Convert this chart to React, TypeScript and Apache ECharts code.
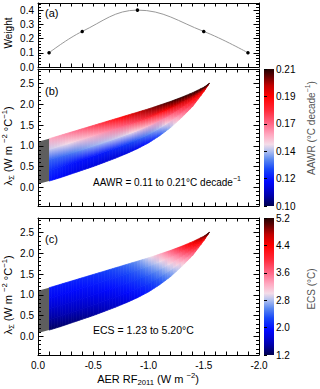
import React, { useEffect, useRef } from "react";
import * as echarts from "echarts";

// ---- data ----
// Panel (a): weights of the aerosol RF samples
const WEIGHT_RF = [-0.1, -0.4, -0.9, -1.5, -1.9];
const WEIGHTS = [0.1, 0.25, 0.4, 0.25, 0.1];

// Panels (b),(c): accepted region in (AER RF, lambda) space, sampled by column
const AER_RF = [-0.1, -0.2, -0.3, -0.4, -0.5, -0.6, -0.7, -0.8, -0.9, -1.0, -1.1, -1.2, -1.3, -1.4, -1.5, -1.55];
const LAMBDA_LOWER = [0.15, 0.23, 0.32, 0.41, 0.5, 0.6, 0.7, 0.81, 0.93, 1.07, 1.24, 1.44, 1.68, 1.95, 2.3, 2.5];
const LAMBDA_UPPER = [1.17, 1.25, 1.33, 1.41, 1.49, 1.57, 1.65, 1.73, 1.81, 1.89, 1.98, 2.07, 2.17, 2.28, 2.41, 2.5];
// relative positions across the band (0 = lower edge, 1 = upper edge) at which values were read
const BAND_LEVELS = [0, 0.25, 0.5, 0.75, 1];

// AAWR (°C decade-1) per column, at BAND_LEVELS
const AAWR = [
  [0.121, 0.126, 0.133, 0.146, 0.157],
  [0.119, 0.124, 0.134, 0.148, 0.16],
  [0.117, 0.122, 0.136, 0.15, 0.164],
  [0.116, 0.121, 0.139, 0.153, 0.168],
  [0.115, 0.122, 0.142, 0.156, 0.173],
  [0.114, 0.123, 0.144, 0.16, 0.178],
  [0.114, 0.125, 0.146, 0.164, 0.184],
  [0.115, 0.128, 0.148, 0.168, 0.19],
  [0.117, 0.132, 0.151, 0.173, 0.196],
  [0.121, 0.137, 0.155, 0.178, 0.201],
  [0.129, 0.144, 0.161, 0.184, 0.205],
  [0.143, 0.154, 0.168, 0.19, 0.208],
  [0.157, 0.166, 0.176, 0.195, 0.21],
  [0.17, 0.177, 0.185, 0.199, 0.21],
  [0.185, 0.19, 0.195, 0.203, 0.21],
  [0.2, 0.202, 0.205, 0.208, 0.21],
];

// ECS (°C) per column, at BAND_LEVELS
const ECS = [
  [1.25, 1.45, 1.66, 1.85, 2.0],
  [1.29, 1.5, 1.7, 1.88, 2.03],
  [1.33, 1.54, 1.74, 1.91, 2.06],
  [1.38, 1.59, 1.78, 1.95, 2.1],
  [1.44, 1.65, 1.83, 2.0, 2.16],
  [1.52, 1.72, 1.89, 2.06, 2.23],
  [1.61, 1.8, 1.97, 2.14, 2.32],
  [1.72, 1.9, 2.07, 2.25, 2.45],
  [1.86, 2.03, 2.21, 2.4, 2.62],
  [2.03, 2.2, 2.4, 2.64, 2.92],
  [2.25, 2.44, 2.66, 2.93, 3.25],
  [2.55, 2.78, 3.02, 3.32, 3.65],
  [2.95, 3.2, 3.48, 3.78, 4.1],
  [3.5, 3.76, 4.02, 4.28, 4.52],
  [4.2, 4.4, 4.6, 4.8, 4.95],
  [4.9, 5.0, 5.1, 5.15, 5.2],
];

// grey (excluded) block near zero forcing
const GREY_RF = [0, -0.1];
const GREY_LOW = [0.08, 0.15];
const GREY_HIGH = [1.1, 1.17];

// colour bars
const AAWR_RANGE = [0.1, 0.21];
const ECS_RANGE = [1.2, 5.2];
const AAWR_TICKS = ["0.10", "0.12", "0.14", "0.17", "0.19", "0.21"];
const ECS_TICKS = ["1.2", "2.0", "2.8", "3.6", "4.4", "5.2"];

// ---- styling ----
const FONT = "'Liberation Sans', Arial, Helvetica, sans-serif";
const CMAP: [number, string][] = [
  [0.0, "#000050"],
  [0.08, "#0000b0"],
  [0.18, "#0008ff"],
  [0.27, "#1848f8"],
  [0.34, "#5a88f0"],
  [0.4, "#b0c0f0"],
  [0.45, "#f4dce8"],
  [0.52, "#ffa8c0"],
  [0.6, "#ff6888"],
  [0.7, "#ff2838"],
  [0.8, "#ff0000"],
  [0.88, "#c00000"],
  [0.95, "#600000"],
  [1.0, "#200000"],
];

function hexRgb(h: string) {
  return [parseInt(h.slice(1, 3), 16), parseInt(h.slice(3, 5), 16), parseInt(h.slice(5, 7), 16)];
}

function cmap(f: number) {
  const t = Math.max(0, Math.min(1, f));
  for (let i = 0; i < CMAP.length - 1; i++) {
    const [f0, c0] = CMAP[i];
    const [f1, c1] = CMAP[i + 1];
    if (t <= f1) {
      const u = (t - f0) / (f1 - f0);
      const a = hexRgb(c0);
      const b = hexRgb(c1);
      return `rgb(${Math.round(a[0] + (b[0] - a[0]) * u)},${Math.round(a[1] + (b[1] - a[1]) * u)},${Math.round(a[2] + (b[2] - a[2]) * u)})`;
    }
  }
  return CMAP[CMAP.length - 1][1];
}

function buildQuads(grid: number[][]) {
  const out: number[][] = [];
  const lev = (j: number, t: number) => LAMBDA_LOWER[j] + t * (LAMBDA_UPPER[j] - LAMBDA_LOWER[j]);
  for (let i = 0; i < AER_RF.length - 1; i++) {
    for (let k = 0; k < BAND_LEVELS.length - 1; k++) {
      const t0 = BAND_LEVELS[k];
      const t1 = BAND_LEVELS[k + 1];
      out.push([
        AER_RF[i], AER_RF[i + 1],
        lev(i, t0), lev(i, t1), lev(i + 1, t0), lev(i + 1, t1),
        grid[i][k], grid[i][k + 1], grid[i + 1][k], grid[i + 1][k + 1],
      ]);
    }
  }
  return out;
}

function fieldRenderer(range: number[]) {
  const norm = (v: number) => (v - range[0]) / (range[1] - range[0]);
  return (params: any, api: any) => {
    const v = (d: number) => api.value(d) as number;
    const xA = v(0), xB = v(1);
    const aLo = v(2), aHi = v(3), bLo = v(4), bHi = v(5);
    const cALo = v(6), cAHi = v(7), cBLo = v(8), cBHi = v(9);
    const N = 4;
    const children: any[] = [];
    for (let s = 0; s < N; s++) {
      const u0 = s / N, u1 = (s + 1) / N, um = (u0 + u1) / 2;
      const x0 = xA + (xB - xA) * u0, x1 = xA + (xB - xA) * u1;
      const lo0 = aLo + (bLo - aLo) * u0, lo1 = aLo + (bLo - aLo) * u1;
      const hi0 = aHi + (bHi - aHi) * u0, hi1 = aHi + (bHi - aHi) * u1;
      const pts = [api.coord([x0, lo0]), api.coord([x1, lo1]), api.coord([x1, hi1]), api.coord([x0, hi0])];
      const cLo = cmap(norm(cALo + (cBLo - cALo) * um));
      const cHi = cmap(norm(cAHi + (cBHi - cAHi) * um));
      const grad = new echarts.graphic.LinearGradient(0, 1, 0, 0, [
        { offset: 0, color: cLo },
        { offset: 1, color: cHi },
      ]);
      children.push({ type: "polygon", shape: { points: pts }, style: { fill: grad, stroke: grad, lineWidth: 0.7 } });
    }
    return { type: "group", children };
  };
}

function greyRenderer(params: any, api: any) {
  const pts = [
    api.coord([api.value(0), api.value(2)]),
    api.coord([api.value(0), api.value(3)]),
    api.coord([api.value(1), api.value(5)]),
    api.coord([api.value(1), api.value(4)]),
  ];
  return { type: "polygon", shape: { points: pts }, style: { fill: "#5e5e5e" } };
}

function colorbarRenderer(params: any, api: any) {
  const p0 = api.coord([api.value(0), api.value(2)]);
  const p1 = api.coord([api.value(1), api.value(3)]);
  const grad = new echarts.graphic.LinearGradient(
    0, 1, 0, 0,
    CMAP.map(([o, c]) => ({ offset: o, color: c }))
  );
  return {
    type: "rect",
    shape: { x: p0[0], y: p1[1], width: p1[0] - p0[0], height: p0[1] - p1[1] },
    style: { fill: grad },
  };
}

const tickLine = { color: "#000", width: 1 };
const labelStyle = { color: "#000", fontSize: 10, fontFamily: FONT };

function xAx(gridIndex: number, position: string, showLabel: boolean) {
  return {
    type: "value", gridIndex, position, min: -2, max: 0, interval: 0.5, inverse: true, z: 10,
    axisLine: { show: true, onZero: false, lineStyle: tickLine },
    axisTick: { show: true, inside: true, length: 3.5, lineStyle: tickLine },
    minorTick: { show: true, splitNumber: 5, length: 3.5, lineStyle: tickLine },
    splitLine: { show: false }, minorSplitLine: { show: false },
    axisLabel: { show: showLabel, margin: 5, ...labelStyle, formatter: (x: number) => x.toFixed(1) },
  };
}

function yAx(gridIndex: number, position: string, showLabel: boolean, min: number, max: number, split: number, step: number) {
  return {
    type: "value", gridIndex, position, min, max, splitNumber: split, z: 10,
    axisLine: { show: true, onZero: false, lineStyle: tickLine },
    axisTick: { show: true, inside: true, length: 5.5, lineStyle: tickLine },
    minorTick: { show: true, splitNumber: 5, length: 3, lineStyle: tickLine },
    splitLine: { show: false }, minorSplitLine: { show: false },
    axisLabel: {
      show: showLabel, margin: 4, ...labelStyle,
      formatter: (y: number) => (Math.abs(y / step - Math.round(y / step)) < 1e-6 ? y.toFixed(1) : ""),
    },
  };
}

function cbAxis(gridIndex: number, labels: string[]) {
  return {
    type: "value", gridIndex, position: "right", min: 0, max: labels.length - 1, interval: 1, z: 10,
    axisLine: { show: false },
    axisTick: { show: true, inside: false, length: 3, lineStyle: tickLine },
    splitLine: { show: false },
    axisLabel: { margin: 2, ...labelStyle, formatter: (i: number) => labels[Math.round(i)] ?? "" },
  };
}

function richText(x: number, y: number, text: string, opts: any = {}) {
  const color = opts.color || "#000";
  const size = opts.size || 10;
  const small = size * 0.7;
  const rich: any = {
    a: { fontSize: size, fontFamily: FONT, fill: color, lineHeight: size + 4 },
    s: { fontSize: small, fontFamily: FONT, fill: color, verticalAlign: "bottom", lineHeight: small + 1 },
    p: { fontSize: small, fontFamily: FONT, fill: color, verticalAlign: "top", lineHeight: small + 1 },
  };
  return {
    type: "text", x, y, rotation: opts.rotation || 0, z: 20,
    style: {
      text, rich, align: opts.align || "center", verticalAlign: "middle",
      fontFamily: FONT, fontSize: size, fill: color,
    },
  };
}

export default function App() {
  const ref = useRef<HTMLDivElement>(null);
  useEffect(() => {
    if (!ref.current) return;
    const chart = echarts.init(ref.current, undefined, { renderer: "svg" });
    const R = Math.PI / 2;
    const lambdaLabel = "{a|λ}{s|Σ}{a| (W m }{p|−2}{a| °C}{p|−1}{a|)}";
    chart.setOption({
      animation: false,
      backgroundColor: "#fff",
      grid: [
        { left: 38, top: 3, width: 221, height: 64 },
        { left: 38, top: 69, width: 221, height: 137 },
        { left: 38, top: 218, width: 221, height: 137 },
        { left: 264, top: 69, width: 10, height: 137 },
        { left: 264, top: 218, width: 10, height: 137 },
      ],
      xAxis: [
        xAx(0, "bottom", false), xAx(0, "top", false),
        xAx(1, "bottom", false), xAx(1, "top", false),
        xAx(2, "bottom", true), xAx(2, "top", false),
        { type: "value", gridIndex: 3, min: 0, max: 1, show: false },
        { type: "value", gridIndex: 4, min: 0, max: 1, show: false },
      ],
      yAxis: [
        yAx(0, "left", true, 0, 0.45, 5, 0.1), yAx(0, "right", false, 0, 0.45, 5, 0.1),
        yAx(1, "left", true, -0.45, 2.85, 7, 0.5), yAx(1, "right", false, -0.45, 2.85, 7, 0.5),
        yAx(2, "left", true, -0.45, 2.85, 7, 0.5), yAx(2, "right", false, -0.45, 2.85, 7, 0.5),
        cbAxis(3, AAWR_TICKS),
        cbAxis(4, ECS_TICKS),
      ],
      series: [
        {
          type: "line", xAxisIndex: 0, yAxisIndex: 0, smooth: 0.4,
          data: WEIGHT_RF.map((x, i) => [x, WEIGHTS[i]]),
          lineStyle: { color: "#999", width: 1 },
          symbol: "circle", symbolSize: 3.5, itemStyle: { color: "#000" }, z: 3,
        },
        {
          type: "custom", xAxisIndex: 2, yAxisIndex: 2, renderItem: fieldRenderer(AAWR_RANGE),
          data: buildQuads(AAWR), encode: { x: [0, 1], y: [2, 3, 4, 5] }, z: 1,
        },
        {
          type: "custom", xAxisIndex: 2, yAxisIndex: 2, renderItem: greyRenderer,
          data: [[GREY_RF[0], GREY_RF[1], GREY_LOW[0], GREY_HIGH[0], GREY_LOW[1], GREY_HIGH[1]]],
          encode: { x: [0, 1], y: [2, 3] }, z: 2,
        },
        {
          type: "custom", xAxisIndex: 4, yAxisIndex: 4, renderItem: fieldRenderer(ECS_RANGE),
          data: buildQuads(ECS), encode: { x: [0, 1], y: [2, 3, 4, 5] }, z: 1,
        },
        {
          type: "custom", xAxisIndex: 4, yAxisIndex: 4, renderItem: greyRenderer,
          data: [[GREY_RF[0], GREY_RF[1], GREY_LOW[0], GREY_HIGH[0], GREY_LOW[1], GREY_HIGH[1]]],
          encode: { x: [0, 1], y: [2, 3] }, z: 2,
        },
        {
          type: "custom", xAxisIndex: 6, yAxisIndex: 6, renderItem: colorbarRenderer,
          data: [[0, 1, 0, AAWR_TICKS.length - 1]], encode: { x: [0, 1], y: [2, 3] },
        },
        {
          type: "custom", xAxisIndex: 7, yAxisIndex: 7, renderItem: colorbarRenderer,
          data: [[0, 1, 0, ECS_TICKS.length - 1]], encode: { x: [0, 1], y: [2, 3] },
        },
      ],
      graphic: [
        richText(8, 33, "{a|Weight}", { rotation: R }),
        richText(8, 146, lambdaLabel, { rotation: R, size: 11 }),
        richText(8, 295, lambdaLabel, { rotation: R, size: 11 }),
        richText(45, 13, "{a|(a)}", { align: "left", size: 11 }),
        richText(45, 91, "{a|(b)}", { align: "left", size: 11 }),
        richText(45, 239, "{a|(c)}", { align: "left", size: 11 }),
        richText(93, 182, "{a|AAWR = 0.11 to 0.21°C decade}{p|−1}", { align: "left", size: 10 }),
        richText(93, 330, "{a|ECS = 1.23 to 5.20°C}", { align: "left", size: 10.5 }),
        richText(311, 128, "{a|AAWR (°C decade}{p|−1}{a|)}", { rotation: R, color: "#555" }),
        richText(311, 289, "{a|ECS (°C)}", { rotation: R, color: "#555" }),
        richText(148, 379, "{a|AER RF}{s|2011}{a| (W m }{p|−2}{a|)}", { size: 11 }),
      ],
    });
    return () => chart.dispose();
  }, []);
  return <div ref={ref} style={{ position: "absolute", left: 0, top: 0, width: 320, height: 389 }} />;
}
